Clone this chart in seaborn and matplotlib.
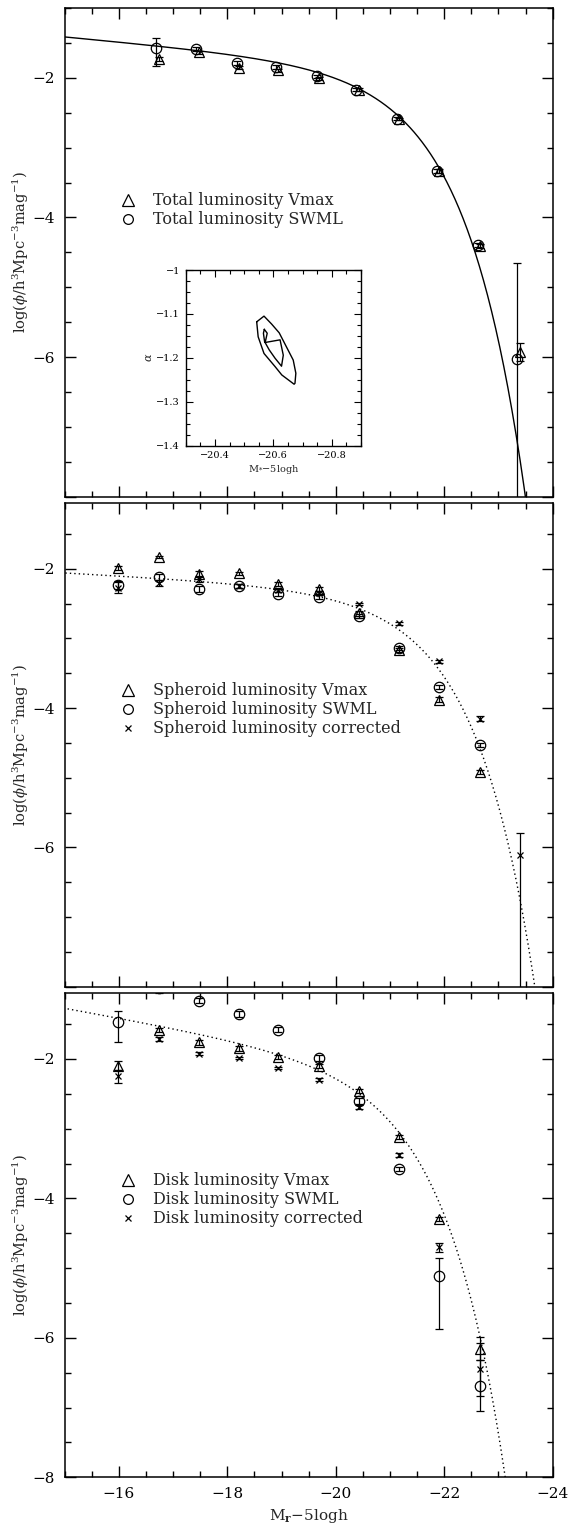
import numpy as np
import matplotlib
matplotlib.use("Agg")
import matplotlib.pyplot as plt
from matplotlib.lines import Line2D
from matplotlib.ticker import MultipleLocator
import seaborn as sns

# ---------------- data ----------------
mag_bins = [-15.99, -16.73, -17.47, -18.21, -18.94, -19.69, -20.42, -21.17, -21.91, -22.66, -23.39]

# Panel 1 : total luminosity
total_mag_vmax = [-16.73, -17.47, -18.21, -18.94, -19.69, -20.42, -21.17, -21.91, -22.66, -23.39]
total_mag_swml = [-16.69, -17.43, -18.17, -18.90, -19.65, -20.38, -21.13, -21.87, -22.62, -23.35]
total_vmax = [-1.733, -1.633, -1.853, -1.895, -2.005, -2.17, -2.59, -3.34, -4.414, -5.93]
total_vmax_err = [0.03, 0.02, 0.02, 0.02, 0.02, 0.02, 0.02, 0.03, 0.03, 0.13]
total_swml = [-1.576, -1.586, -1.79, -1.843, -1.981, -2.171, -2.586, -3.333, -4.395, -6.03]
total_swml_err_lo = [0.248, 0.03, 0.03, 0.03, 0.02, 0.02, 0.02, 0.03, 0.03, 3.0]
total_swml_err_hi = [0.152, 0.03, 0.03, 0.03, 0.02, 0.02, 0.02, 0.03, 0.03, 1.38]

# Panel 2 : spheroid luminosity
sph_vmax = [-1.986, -1.83, -2.067, -2.066, -2.22, -2.295, -2.64, -3.17, -3.876, -4.92, np.nan]
sph_vmax_err = [0.03, 0.02, 0.03, 0.02, 0.03, 0.03, 0.03, 0.03, 0.03, 0.03, np.nan]
sph_swml = [-2.233, -2.12, -2.29, -2.25, -2.36, -2.40, -2.675, -3.14, -3.695, -4.53, np.nan]
sph_swml_err = [0.06, 0.04, 0.04, 0.03, 0.03, 0.03, 0.03, 0.03, 0.03, 0.03, np.nan]
sph_corr = [-2.27, -2.20, -2.15, -2.25, -2.30, -2.35, -2.505, -2.78, -3.33, -4.15, -6.114]
sph_corr_err_lo = [0.08, 0.04, 0.04, 0.03, 0.03, 0.03, 0.02, 0.02, 0.02, 0.03, 3.0]
sph_corr_err_hi = [0.08, 0.04, 0.04, 0.03, 0.03, 0.03, 0.02, 0.02, 0.02, 0.03, 0.325]

# Panel 3 : disk luminosity
disk_vmax = [-2.096, -1.58, -1.763, -1.849, -1.97, -2.096, -2.463, -3.12, -4.296, -6.153, np.nan]
disk_vmax_err = [0.06, 0.03, 0.03, 0.03, 0.03, 0.03, 0.03, 0.03, 0.03, 0.16, np.nan]
disk_swml = [-1.47, -0.98, -1.163, -1.357, -1.58, -1.99, -2.606, -3.58, -5.114, -6.685, np.nan]
disk_swml_err_lo = [0.287, 0.08, 0.04, 0.04, 0.04, 0.04, 0.04, 0.03, 0.763, 0.37, np.nan]
disk_swml_err_hi = [0.164, 0.08, 0.04, 0.04, 0.04, 0.04, 0.04, 0.03, 0.257, 0.37, np.nan]
disk_corr = [-2.25, -1.71, -1.924, -1.986, -2.13, -2.296, -2.686, -3.377, -4.70, -6.45, np.nan]
disk_corr_err = [0.09, 0.03, 0.02, 0.02, 0.02, 0.02, 0.03, 0.03, 0.065, 0.38, np.nan]

# Schechter fits: (M*, alpha, phi*)
fit_total = (-20.65, -1.18, 0.01647)
fit_spheroid = (-20.90, -1.107, 0.00532)
fit_disk = (-20.35, -1.35, 0.01037)

# Inset: confidence contours in (M*, alpha)
contour_outer_M = [-20.543, -20.568, -20.594, -20.620, -20.668, -20.677, -20.674, -20.671,
                   -20.629, -20.606, -20.568, -20.548, -20.543]
contour_outer_a = [-1.118, -1.105, -1.123, -1.143, -1.205, -1.235, -1.258, -1.260,
                   -1.239, -1.220, -1.190, -1.152, -1.118]
contour_inner_M = [-20.569, -20.579, -20.572, -20.623, -20.634, -20.628, -20.606, -20.586,
                   -20.570, -20.566, -20.569]
contour_inner_a = [-1.135, -1.144, -1.165, -1.159, -1.194, -1.219, -1.201, -1.182,
                   -1.163, -1.144, -1.135]

# ---------------- style ----------------
sns.set_theme(style="ticks")
plt.rcParams["font.family"] = ["DejaVu Serif"]
plt.rcParams["mathtext.fontset"] = "dejavuserif"
plt.rcParams["axes.unicode_minus"] = True

W, H = 573, 1529
fig = plt.figure(figsize=(W / 100, H / 100), dpi=100)

left = 64.7 / W
width = (552.7 - 64.7) / W
panels_px = [(8, 496.7, -1.0), (502.7, 986.7, -1.05), (992.7, 1477.3, -1.05)]
axes = []
for top, bot, ytop in panels_px:
    ax = fig.add_axes([left, 1 - bot / H, width, (bot - top) / H])
    ax.set_xlim(-15, -24)
    ax.set_ylim(-8, ytop)
    axes.append(ax)

TS = 11
LS = 10.5
LEG = 11.5
ylab = r"log($\phi$/h$^{3}$Mpc$^{-3}$mag$^{-1}$)"
ms_tri, ms_circ, ms_x = 6.5, 7.5, 5

def schechter_log(M, Mstar, alpha, phistar):
    x = 10 ** (0.4 * (Mstar - M))
    return np.log10(0.4 * np.log(10) * phistar * x ** (alpha + 1) * np.exp(-x))

Mgrid = np.linspace(-15, -24, 600)

def eb(ax, x, y, yerr, marker, ms):
    ax.errorbar(x, y, yerr=yerr, fmt=marker, ms=ms, mfc="none", mec="black",
                mew=0.9, ecolor="black", elinewidth=0.9, capsize=3.2, capthick=0.9,
                color="black", zorder=3)

for i, ax in enumerate(axes):
    ax.xaxis.set_major_locator(MultipleLocator(2))
    ax.xaxis.set_minor_locator(MultipleLocator(0.5))
    ax.yaxis.set_minor_locator(MultipleLocator(0.5))
    ax.set_xticks([-16, -18, -20, -22, -24])
    if i < 2:
        ax.set_yticks([-8, -6, -4, -2], ["", "\u22126", "\u22124", "\u22122"])
        ax.set_xticklabels([])
    else:
        ax.set_yticks([-8, -6, -4, -2], ["\u22128", "\u22126", "\u22124", "\u22122"])
        ax.set_xticklabels(["\u221216", "\u221218", "\u221220", "\u221222", "\u221224"])
    ax.tick_params(which="both", direction="in", top=True, right=True,
                   labelsize=TS, width=1.0, colors="black")
    ax.tick_params(which="major", length=8, pad=7)
    ax.tick_params(which="minor", length=4)
    for s in ax.spines.values():
        s.set_linewidth(1.1)
        s.set_color("black")
    ax.set_ylabel(ylab, fontsize=LS)
    ax.yaxis.set_label_coords(-0.07, 0.5)

def legend(ax, handles, labels, y0):
    ax.legend(handles, labels, loc="upper left", bbox_to_anchor=(0.114, y0),
              frameon=False, fontsize=LEG, handlelength=1.0, handletextpad=1.03,
              labelspacing=0.13, borderpad=0, borderaxespad=0)

h_tri = Line2D([], [], ls="none", marker="^", ms=8, mfc="none", mec="black", mew=0.9)
h_circ = Line2D([], [], ls="none", marker="o", ms=7, mfc="none", mec="black", mew=0.9)
h_x = Line2D([], [], ls="none", marker="x", ms=5, mfc="none", mec="black", mew=0.9)

# ---- panel 1
ax = axes[0]
sns.lineplot(x=Mgrid, y=schechter_log(Mgrid, *fit_total), ax=ax, color="black",
             lw=1.0, zorder=2)
eb(ax, total_mag_vmax, total_vmax, total_vmax_err, "^", ms_tri)
eb(ax, total_mag_swml, total_swml, [total_swml_err_lo, total_swml_err_hi], "o", ms_circ)
legend(ax, [h_tri, h_circ], ["Total luminosity Vmax", "Total luminosity SWML"], 0.623)

# ---- panel 2
ax = axes[1]
sns.lineplot(x=Mgrid, y=schechter_log(Mgrid, *fit_spheroid), ax=ax, color="black",
             lw=1.0, linestyle=(0, (1, 2.2)), zorder=2)
eb(ax, mag_bins, sph_vmax, sph_vmax_err, "^", ms_tri)
eb(ax, mag_bins, sph_swml, sph_swml_err, "o", ms_circ)
eb(ax, mag_bins, sph_corr, [sph_corr_err_lo, sph_corr_err_hi], "x", ms_x)
legend(ax, [h_tri, h_circ, h_x], ["Spheroid luminosity Vmax", "Spheroid luminosity SWML",
                                  "Spheroid luminosity corrected"], 0.629)

# ---- panel 3
ax = axes[2]
sns.lineplot(x=Mgrid, y=schechter_log(Mgrid, *fit_disk), ax=ax, color="black",
             lw=1.0, linestyle=(0, (1, 2.2)), zorder=2)
eb(ax, mag_bins, disk_vmax, disk_vmax_err, "^", ms_tri)
eb(ax, mag_bins, disk_swml, [disk_swml_err_lo, disk_swml_err_hi], "o", ms_circ)
eb(ax, mag_bins, disk_corr, disk_corr_err, "x", ms_x)
legend(ax, [h_tri, h_circ, h_x], ["Disk luminosity Vmax", "Disk luminosity SWML",
                                  "Disk luminosity corrected"], 0.6296)
ax.set_xlabel("M$_{\\mathbf{r}}$\u22125logh", fontsize=TS)
ax.xaxis.set_label_coords(0.5, -0.062)

# ---- inset
ins = fig.add_axes([185.7 / W, 1 - 445.7 / H, (361 - 185.7) / W, (445.7 - 270) / H])
ins.set_xlim(-20.3, -20.9)
ins.set_ylim(-1.4, -1.0)
sns.lineplot(x=contour_outer_M, y=contour_outer_a, ax=ins, sort=False, color="black",
             lw=1.0, estimator=None)
sns.lineplot(x=contour_inner_M, y=contour_inner_a, ax=ins, sort=False, color="black",
             lw=1.0, estimator=None)
ins.set_xticks([-20.4, -20.6, -20.8], ["\u221220.4", "\u221220.6", "\u221220.8"])
ins.set_yticks([-1.4, -1.3, -1.2, -1.1, -1.0],
               ["\u22121.4", "\u22121.3", "\u22121.2", "\u22121.1", "\u22121"])
ins.xaxis.set_minor_locator(MultipleLocator(0.05))
ins.yaxis.set_minor_locator(MultipleLocator(0.025))
ins.tick_params(which="both", direction="in", top=True, right=True, labelsize=7,
                width=0.8, colors="black")
ins.tick_params(which="major", length=5, pad=4)
ins.tick_params(which="minor", length=3)
for s in ins.spines.values():
    s.set_linewidth(1.0)
    s.set_color("black")
ins.set_xlabel("M$_{*}$\u22125logh", fontsize=7, labelpad=2)
ins.set_ylabel(r"$\alpha$", fontsize=8, labelpad=2)

fig.savefig("out.png", dpi=100)
